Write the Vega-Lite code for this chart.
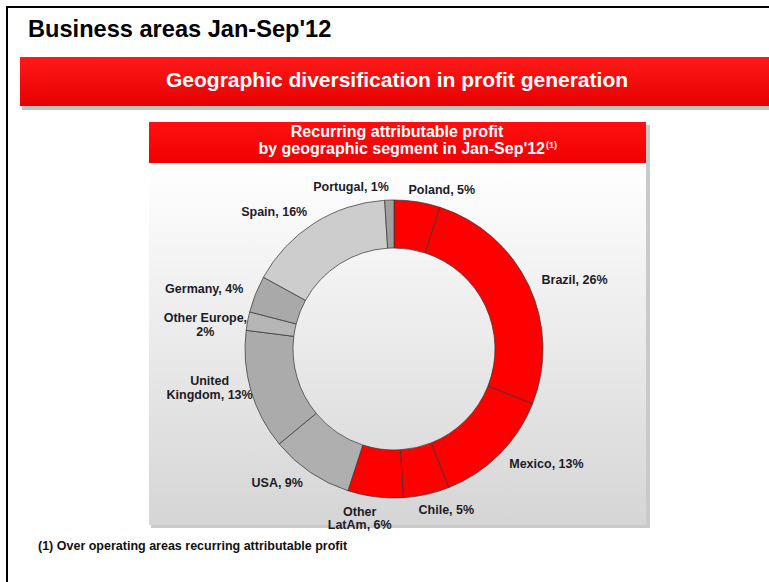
{
  "$schema": "https://vega.github.io/schema/vega-lite/v6.json",
  "width": 750,
  "height": 466,
  "autosize": "none",
  "padding": {"left": 19, "top": 116, "right": 0, "bottom": 0},
  "background": "white",
  "config": {"view": {"stroke": null}, "font": "Liberation Sans"},
  "data": {
    "values": [
      {"country": "Poland", "label": "Poland, 5%", "pct": 5, "order": 1},
      {"country": "Brazil", "label": "Brazil, 26%", "pct": 26, "order": 2},
      {"country": "Mexico", "label": "Mexico,  13%", "pct": 13, "order": 3},
      {"country": "Chile", "label": "Chile, 5%", "pct": 5, "order": 4},
      {"country": "Other LatAm", "label": "Other\nLatAm, 6%", "pct": 6, "order": 5},
      {"country": "USA", "label": "USA, 9%", "pct": 9, "order": 6},
      {"country": "United Kingdom", "label": "United\nKingdom, 13%", "pct": 13, "order": 7},
      {"country": "Other Europe", "label": "Other Europe,\n2%", "pct": 2, "order": 8},
      {"country": "Germany", "label": "Germany,  4%", "pct": 4, "order": 9},
      {"country": "Spain", "label": "Spain, 16%", "pct": 16, "order": 10},
      {"country": "Portugal", "label": "Portugal, 1%", "pct": 1, "order": 11}
    ]
  },
  "layer": [
    {
      "data": {"values": [{}]},
      "mark": {"type": "rect", "x": -13, "y": -110, "x2": -11, "y2": 466, "fill": "black"}
    },
    {
      "data": {"values": [{}]},
      "mark": {"type": "rect", "x": -13, "y": -110, "x2": 750, "y2": -108, "fill": "black"}
    },
    {
      "data": {"values": [{}]},
      "mark": {"type": "text", "x": 9, "y": -79, "align": "left", "baseline": "alphabetic", "text": "Business areas Jan-Sep'12", "fontSize": 23.6, "fontWeight": "bold", "fill": "black"}
    },
    {
      "data": {"values": [{}]},
      "mark": {"type": "rect", "x": 3, "y": -56, "x2": 750, "y2": -6, "fill": "#777777", "opacity": 0.45}
    },
    {
      "data": {"values": [{}]},
      "mark": {"type": "rect", "x": 1, "y": -59, "x2": 750, "y2": -10,
        "fill": {"gradient": "linear", "x1": 0, "y1": 0, "x2": 0, "y2": 1, "stops": [{"offset": 0, "color": "#ff1a1a"}, {"offset": 1, "color": "#e60000"}]}}
    },
    {
      "data": {"values": [{}]},
      "mark": {"type": "text", "x": 378, "y": -35, "align": "center", "baseline": "middle", "text": "Geographic diversification in profit generation", "fontSize": 21, "fontWeight": "bold", "fill": "white"}
    },
    {
      "data": {"values": [{}]},
      "mark": {"type": "rect", "x": 132, "y": 9, "x2": 631, "y2": 412, "fill": "#8a8a8a", "opacity": 0.45}
    },
    {
      "data": {"values": [{}]},
      "mark": {"type": "rect", "x": 130, "y": 47, "x2": 627, "y2": 409,
        "fill": {"gradient": "linear", "x1": 0, "y1": 0, "x2": 0, "y2": 1, "stops": [{"offset": 0, "color": "#ffffff"}, {"offset": 1, "color": "#d5d5d5"}]}}
    },
    {
      "data": {"values": [{}]},
      "mark": {"type": "rect", "x": 130, "y": 6, "x2": 627, "y2": 47,
        "fill": {"gradient": "linear", "x1": 0, "y1": 0, "x2": 0, "y2": 1, "stops": [{"offset": 0, "color": "#ff1010"}, {"offset": 1, "color": "#f00000"}]}}
    },
    {
      "data": {"values": [{}]},
      "mark": {"type": "text", "x": 378, "y": 16, "align": "center", "baseline": "middle", "text": "Recurring attributable profit", "fontSize": 16, "fontWeight": "bold", "fill": "white"}
    },
    {
      "data": {"values": [{}]},
      "mark": {"type": "text", "x": 526, "y": 33, "align": "right", "baseline": "middle", "text": "by geographic segment in Jan-Sep'12", "fontSize": 16, "fontWeight": "bold", "fill": "white"}
    },
    {
      "data": {"values": [{}]},
      "mark": {"type": "text", "x": 527, "y": 29, "align": "left", "baseline": "middle", "text": "(1)", "fontSize": 9, "fontWeight": "bold", "fill": "white"}
    },
    {
      "data": {"values": [{}]},
      "mark": {"type": "text", "x": 19, "y": 434, "align": "left", "baseline": "alphabetic", "text": "(1) Over operating areas  recurring  attributable profit", "fontSize": 12.5, "fontWeight": "bold", "fill": "#111111"}
    },
    {
      "mark": {"type": "arc", "radius": 149, "innerRadius": 101, "stroke": "#333333", "strokeWidth": 1, "strokeOpacity": 0.7},
      "encoding": {
        "theta": {"field": "pct", "type": "quantitative", "stack": true},
        "order": {"field": "order", "type": "quantitative"},
        "color": {
          "field": "country",
          "type": "nominal",
          "legend": null,
          "scale": {
            "domain": ["Poland", "Brazil", "Mexico", "Chile", "Other LatAm", "USA", "United Kingdom", "Other Europe", "Germany", "Spain", "Portugal"],
            "range": ["#ff0000", "#ff0000", "#ff0000", "#ff0000", "#ff0000", "#afafaf", "#ababab", "#b6b6b6", "#a9a9a9", "#cdcdcd", "#a0a0a0"]
          }
        }
      }
    },
    {
      "mark": {"type": "text", "radius": 163, "align": "left", "baseline": "middle", "fontSize": 12.5, "fontWeight": "bold", "fill": "#1c1c28", "lineBreak": "\n"},
      "encoding": {
        "theta": {"field": "pct", "type": "quantitative", "stack": true},
        "order": {"field": "order", "type": "quantitative"},
        "text": {"condition": {"test": "datum.order == 2 || datum.order == 3", "field": "label"}, "value": ""}
      }
    },
    {
      "mark": {"type": "text", "radius": 163, "dx": -11, "dy": 2, "align": "left", "baseline": "middle", "fontSize": 12.5, "fontWeight": "bold", "fill": "#1c1c28", "lineBreak": "\n"},
      "encoding": {
        "theta": {"field": "pct", "type": "quantitative", "stack": true},
        "order": {"field": "order", "type": "quantitative"},
        "text": {"condition": {"test": "datum.order == 1 || datum.order == 4", "field": "label"}, "value": ""}
      }
    },
    {
      "mark": {"type": "text", "radius": 162, "align": "right", "baseline": "middle", "fontSize": 12.5, "fontWeight": "bold", "fill": "#1c1c28", "lineBreak": "\n"},
      "encoding": {
        "theta": {"field": "pct", "type": "quantitative", "stack": true},
        "order": {"field": "order", "type": "quantitative"},
        "text": {"condition": {"test": "datum.order == 6 || datum.order >= 9", "field": "label"}, "value": ""}
      }
    },
    {
      "mark": {"type": "text", "radius": 170, "dx": -13, "dy": -6, "align": "center", "baseline": "middle", "fontSize": 12.5, "fontWeight": "bold", "fill": "#1c1c28", "lineBreak": "\n", "lineHeight": 13},
      "encoding": {
        "theta": {"field": "pct", "type": "quantitative", "stack": true},
        "order": {"field": "order", "type": "quantitative"},
        "text": {"condition": {"test": "datum.order == 5", "field": "label"}, "value": ""}
      }
    },
    {
      "mark": {"type": "text", "radius": 192, "dy": -22, "align": "center", "baseline": "middle", "fontSize": 12.5, "fontWeight": "bold", "fill": "#1c1c28", "lineBreak": "\n", "lineHeight": 14},
      "encoding": {
        "theta": {"field": "pct", "type": "quantitative", "stack": true},
        "order": {"field": "order", "type": "quantitative"},
        "text": {"condition": {"test": "datum.order == 7", "field": "label"}, "value": ""}
      }
    },
    {
      "mark": {"type": "text", "radius": 192, "dy": 5, "align": "center", "baseline": "middle", "fontSize": 12.5, "fontWeight": "bold", "fill": "#1c1c28", "lineBreak": "\n", "lineHeight": 14},
      "encoding": {
        "theta": {"field": "pct", "type": "quantitative", "stack": true},
        "order": {"field": "order", "type": "quantitative"},
        "text": {"condition": {"test": "datum.order == 8", "field": "label"}, "value": ""}
      }
    }
  ]
}
